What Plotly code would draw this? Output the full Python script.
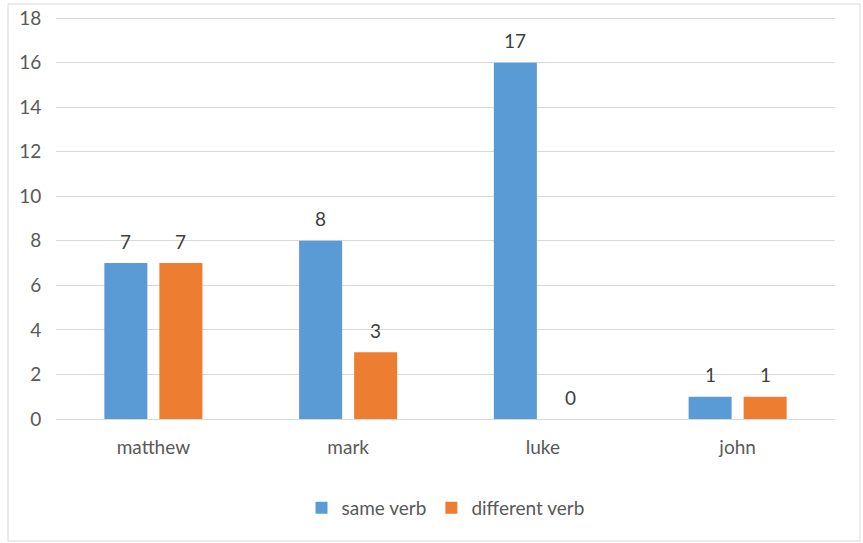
import plotly.graph_objects as go

categories = ["matthew", "mark", "luke", "john"]
same_verb = [7, 8, 16, 1]
different_verb = [7, 3, 0, 1]
same_labels = ["7", "8", "17", "1"]
different_labels = ["7", "3", "0", "1"]
y_ticks = [0, 2, 4, 6, 8, 10, 12, 14, 16, 18]

FONT = "Lato"
FS = 19
BLUE = "#5B9BD5"
ORANGE = "#ED7D31"
GRID = "#D9D9D9"

W, H = 863, 543
L, R, T, B = 56, 28, 17, 124
pw = W - L - R
ph = H - T - B
bargap = 0.435
cat_w = pw / len(categories)
slot = cat_w * (1 - bargap) / 2

fig = go.Figure()
fig.add_trace(go.Bar(name="same verb", x=categories, y=same_verb, marker_color=BLUE,
                     marker_line_width=0))
fig.add_trace(go.Bar(name="different verb", x=categories, y=different_verb, marker_color=ORANGE,
                     marker_line_width=0))

anns = []
for i, c in enumerate(categories):
    for vals, labs, sh in ((same_verb, same_labels, -slot / 2), (different_verb, different_labels, slot / 2)):
        anns.append(dict(x=c, y=vals[i], text=labs[i], showarrow=False, xshift=sh, yshift=22,
                         font=dict(family=FONT, size=FS, color="#404040")))

fig.update_layout(
    width=W, height=H,
    margin=dict(l=L, r=R, t=T, b=B, autoexpand=False),
    paper_bgcolor="white", plot_bgcolor="white",
    barmode="group", bargap=bargap, bargroupgap=0.218,
    font=dict(family=FONT, size=FS, color="#595959"),
    showlegend=True,
    legend=dict(orientation="h", x=0.5, xanchor="center", y=(T + ph - 508) / ph, yanchor="middle",
                font=dict(family=FONT, size=FS, color="#595959"), itemwidth=30, traceorder="normal"),
    annotations=anns,
    shapes=[dict(type="rect", xref="paper", yref="paper",
                 x0=(8 - L) / pw, x1=(860 - L) / pw,
                 y0=(T + ph - 541) / ph, y1=(T + ph - 4) / ph,
                 line=dict(color=GRID, width=1), fillcolor="rgba(0,0,0,0)", layer="below")],
)
fig.update_xaxes(showgrid=False, showline=True, linecolor=GRID, ticks="outside", ticklen=11,
                 tickcolor="rgba(0,0,0,0)", tickfont=dict(family=FONT, size=FS, color="#595959"),
                 automargin=False)
fig.update_yaxes(range=[0, 18.05], tickvals=y_ticks, showgrid=True, gridcolor=GRID, zeroline=False,
                 showline=False, ticks="outside", ticklen=10, tickcolor="rgba(0,0,0,0)",
                 tickfont=dict(family=FONT, size=FS, color="#595959"), automargin=False)

fig.write_html("out.html")
